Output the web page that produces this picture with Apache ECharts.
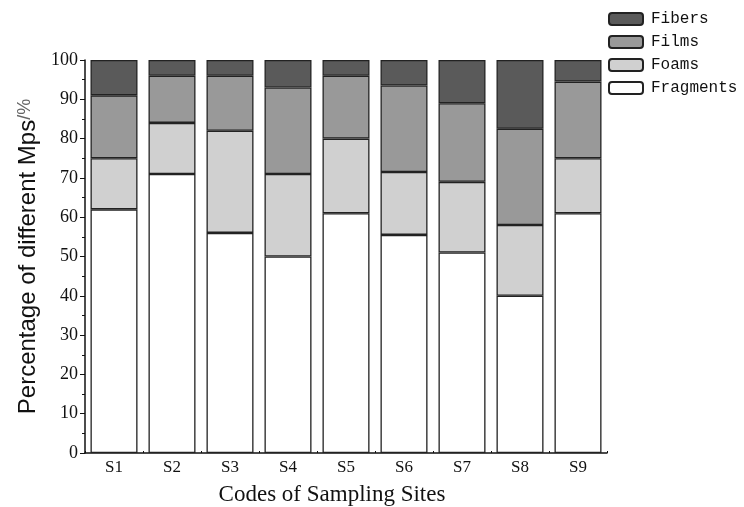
<!DOCTYPE html>
<html>
<head>
<meta charset="utf-8">
<script src="https://cdn.jsdelivr.net/npm/echarts@6/dist/echarts.min.js"></script>
<style>html,body{margin:0;padding:0;background:#fff}#c{width:744px;height:507px}</style>
</head>
<body>
<div id="c"></div>
<script>
const categories = ['S1','S2','S3','S4','S5','S6','S7','S8','S9'];
const fragments = [62, 71, 56, 50, 61, 55.5, 51, 40, 61];
const foams     = [13, 13, 26, 21, 19, 16, 18, 18, 14];
const films     = [16, 12, 14, 22, 16, 22, 20, 24.5, 19.5];
const fibers    = [9, 4, 4, 7, 4, 6.5, 11, 17.5, 5.5];
const yTicks = [0,10,20,30,40,50,60,70,80,90,100];

const serif = '"Liberation Serif", "DejaVu Serif", serif';
const border = '#222';
function mk(name, data, color){
  return {
    name, type:'bar', stack:'total', data, barWidth:47,
    itemStyle:{color, borderColor:border, borderWidth:1.3},
    emphasis:{disabled:true}
  };
}
const chart = echarts.init(document.getElementById('c'));
chart.setOption({
  animation:false,
  backgroundColor:'#fff',
  grid:{left:85, right:137, top:60, bottom:54, containLabel:false, outerBoundsMode:'none'},
  legend:{
    orient:'vertical', left:603, top:6, itemWidth:34, itemHeight:12, itemGap:7,
    data:['Fibers','Films','Foams','Fragments'],
    textStyle:{fontFamily:'"Liberation Mono", monospace', fontSize:16, color:'#111', padding:[0,0,0,3]}
  },
  xAxis:[{
    type:'category', data:categories,
    axisLine:{lineStyle:{color:'#111', width:1.5}},
    axisTick:{show:true, inside:true, length:2, alignWithLabel:false, lineStyle:{color:'#111'}},
    axisLabel:{fontFamily:serif, fontSize:17, color:'#111', margin:6},
    name:'Codes of Sampling Sites', nameLocation:'middle', nameGap:30,
    nameTextStyle:{fontFamily:serif, fontSize:23, color:'#111', padding:[0,28,0,0]}
  },{
    type:'category', data:categories, position:'bottom',
    axisLine:{show:false}, axisLabel:{show:false},
    axisTick:{show:true, inside:true, length:3, alignWithLabel:true, lineStyle:{color:'#111'}}
  }],
  yAxis:{
    type:'value', min:yTicks[0], max:yTicks[yTicks.length-1], interval:10,
    axisLine:{show:true, lineStyle:{color:'#111', width:1.5}},
    axisTick:{show:true, length:5, lineStyle:{color:'#111'}},
    minorTick:{show:true, splitNumber:2, length:3, lineStyle:{color:'#111'}},
    splitLine:{show:false},
    axisLabel:{fontFamily:serif, fontSize:18, color:'#111', margin:7},
    name:'{a|Percentage of different Mps}{b|/%}', nameLocation:'middle', nameGap:40,
    nameTextStyle:{
      rich:{
        a:{fontFamily:'"Liberation Sans", Arial, sans-serif', fontSize:24, color:'#111'},
        b:{fontFamily:'"Liberation Sans", Arial, sans-serif', fontSize:18, color:'#666', verticalAlign:'top'}
      }
    }
  },
  series:[
    mk('Fragments', fragments, '#ffffff'),
    mk('Foams', foams, '#d0d0d0'),
    mk('Films', films, '#999999'),
    mk('Fibers', fibers, '#5a5a5a')
  ]
});
</script>
</body>
</html>
